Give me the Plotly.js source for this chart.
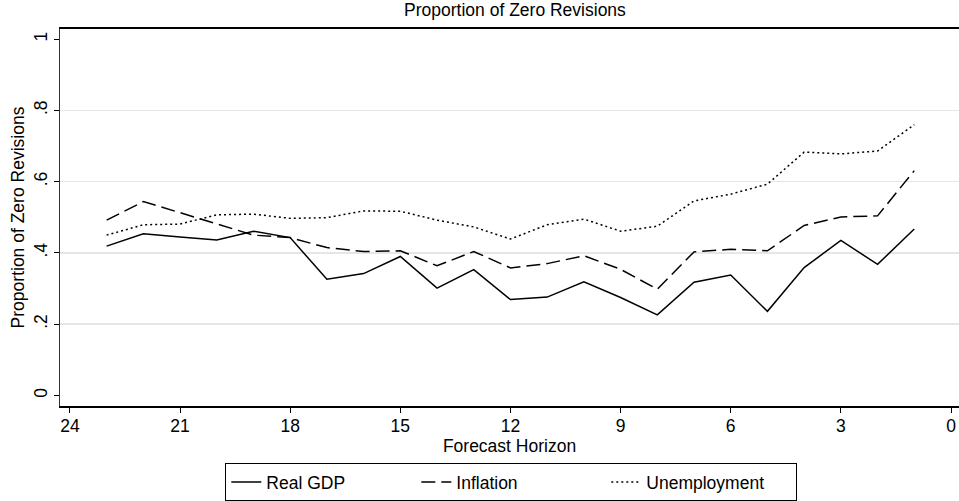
<!DOCTYPE html>
<html>
<head>
<meta charset="utf-8">
<script src="https://cdn.plot.ly/plotly-3.0.1.min.js"></script>
<style>
html, body { margin: 0; padding: 0; background: #fff; }
#chart { width: 959px; height: 501px; }
</style>
</head>
<body>
<div id="chart"></div>
<script>
// Forecast horizon (quarters)
const horizon = [23, 22, 21, 20, 19, 18, 17, 16, 15, 14, 13, 12, 11, 10, 9, 8, 7, 6, 5, 4, 3, 2, 1];

const realGDP = [0.419, 0.454, 0.445, 0.436, 0.461, 0.443, 0.326, 0.342, 0.390, 0.301, 0.353, 0.269,
                 0.276, 0.319, 0.275, 0.226, 0.318, 0.338, 0.236, 0.359, 0.435, 0.368, 0.467];

const inflation = [0.492, 0.544, 0.513, 0.481, 0.450, 0.443, 0.415, 0.404, 0.406, 0.364, 0.404, 0.358,
                   0.370, 0.392, 0.354, 0.298, 0.403, 0.410, 0.406, 0.477, 0.501, 0.504, 0.631];

const unemployment = [0.450, 0.479, 0.481, 0.507, 0.509, 0.497, 0.499, 0.518, 0.517, 0.492, 0.473, 0.439,
                      0.479, 0.495, 0.461, 0.475, 0.546, 0.565, 0.593, 0.683, 0.678, 0.686, 0.760];

const xTickVals = [24, 21, 18, 15, 12, 9, 6, 3, 0];
const xTickText = ["24", "21", "18", "15", "12", "9", "6", "3", "0"];
const yTickVals = [0, 0.2, 0.4, 0.6, 0.8, 1];
const yTickText = ["0", ".2", ".4", ".6", ".8", "1"];
const yGridVals = [0.2, 0.4, 0.6, 0.8];

const FONT = "'Liberation Sans', Arial, sans-serif";
const FS = 17.5;

const traces = [
  { x: horizon, y: realGDP, name: "Real GDP", type: "scatter", mode: "lines",
    line: { color: "#000", width: 1.5 } },
  { x: horizon, y: inflation, name: "Inflation", type: "scatter", mode: "lines",
    line: { color: "#000", width: 1.5, dash: "14px,6px" } },
  { x: horizon, y: unemployment, name: "Unemployment", type: "scatter", mode: "lines",
    line: { color: "#000", width: 1.5, dash: "2px,3px" } },
  { x: [], y: [], yaxis: "y2", showlegend: false, hoverinfo: "skip", type: "scatter" }
];

const yRange = [-0.0297, 1.0286];

const layout = {
  width: 959, height: 501,
  margin: { l: 60, r: 0, t: 29, b: 91, pad: 0 },
  paper_bgcolor: "#fff", plot_bgcolor: "#fff",
  font: { family: FONT, size: FS, color: "#000" },
  title: { text: "Proportion of Zero Revisions", x: 0.537, xanchor: "center", y: 0.981, yanchor: "middle",
           font: { family: FONT, size: FS, color: "#000" } },
  showlegend: true,
  legend: { orientation: "h", x: 0.502, xanchor: "center", y: -0.152, yanchor: "top",
            bordercolor: "#000", borderwidth: 1, bgcolor: "#fff",
            font: { family: FONT, size: FS, color: "#000" },
            entrywidth: 145, entrywidthmode: "pixels", tracegroupgap: 0 },
  xaxis: {
    range: [24.27, -0.218], tickmode: "array", tickvals: xTickVals, ticktext: xTickText,
    showgrid: false, zeroline: false,
    showline: true, linecolor: "#000", linewidth: 2, mirror: true,
    ticks: "outside", ticklen: 5, tickwidth: 1, tickcolor: "#000",
    ticklabelstandoff: -2,
    tickfont: { family: FONT, size: FS, color: "#000" },
    title: { text: "Forecast Horizon", standoff: 0, font: { family: FONT, size: FS, color: "#000" } }
  },
  yaxis: {
    range: yRange, tickmode: "array", tickvals: yTickVals, ticktext: yTickText,
    showgrid: false, zeroline: false,
    showline: true, linecolor: "#333", linewidth: 1.5,
    ticks: "outside", ticklen: 5, tickwidth: 1, tickcolor: "#000",
    tickangle: -90,
    tickfont: { family: FONT, size: FS, color: "#000" },
    title: { text: "Proportion of Zero Revisions", standoff: 1, font: { family: FONT, size: FS, color: "#000" } }
  },
  yaxis2: {
    range: yRange, overlaying: "y", side: "left", tickmode: "array", tickvals: yGridVals,
    showticklabels: false, ticks: "", showgrid: true, gridcolor: "#e6e6e6", gridwidth: 1.5,
    zeroline: false, showline: false
  }
};

Plotly.newPlot("chart", traces, layout, { staticPlot: true, displayModeBar: false });
</script>
</body>
</html>
